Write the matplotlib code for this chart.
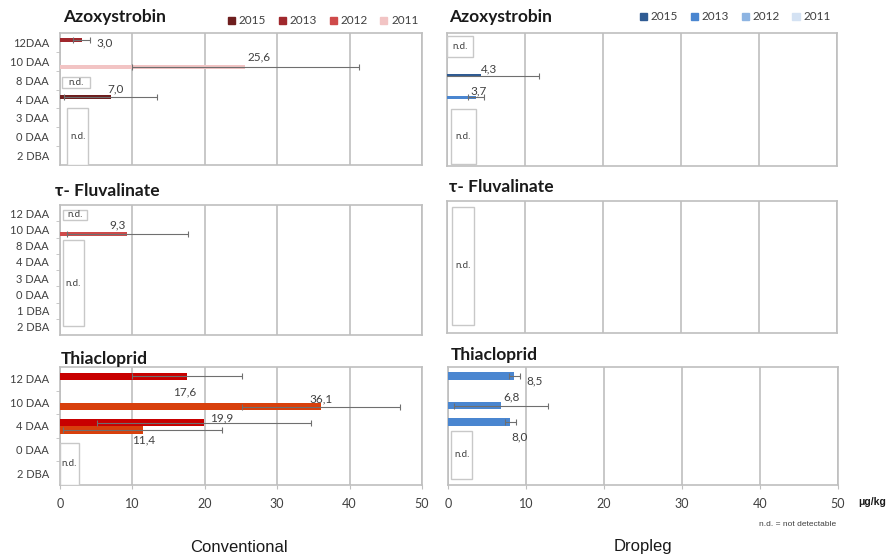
import matplotlib.pyplot as plt
from matplotlib.patches import Patch, Rectangle

plt.rcParams['font.family'] = ['Lato', 'DejaVu Sans']

years = ['2015', '2013', '2012', '2011']
conv_colors = ['#6e1e1e', '#a0282d', '#cf4a4a', '#f2c4c4']
drop_colors = ['#2f5b93', '#4a86d0', '#8db4e2', '#d4e2f3']
thia_red = '#c80000'
thia_orange = '#d8400c'

azo_cats = ['12DAA', '10 DAA', '8 DAA', '4 DAA', '3 DAA', '0 DAA', '2 DBA']
flu_cats = ['12 DAA', '10 DAA', '8 DAA', '4 DAA', '3 DAA', '0 DAA', '1 DBA', '2 DBA']
thia_cats = ['12 DAA', '10 DAA', '4 DAA', '0 DAA', '2 DBA']

# conventional
azo_conv_cat = ['12DAA', '10 DAA', '4 DAA']
azo_conv_val = [3.0, 25.6, 7.0]
azo_conv_err = [1.2, 15.7, 6.4]
azo_conv_col = [conv_colors[1], conv_colors[3], conv_colors[0]]

flu_conv_cat = ['10 DAA']
flu_conv_val = [9.3]
flu_conv_err = [8.4]
flu_conv_col = [conv_colors[2]]

thia_conv_cat = ['12 DAA', '10 DAA', '4 DAA', '4 DAA']
thia_conv_val = [17.6, 36.1, 19.9, 11.4]
thia_conv_err = [7.6, 10.9, 14.8, 11.0]
thia_conv_col = [thia_red, thia_orange, thia_red, thia_orange]

# dropleg
azo_drop_cat = ['8 DAA', '4 DAA']
azo_drop_val = [4.3, 3.7]
azo_drop_err = [7.5, 1.0]
azo_drop_col = [drop_colors[0], drop_colors[1]]

thia_drop_cat = ['12 DAA', '10 DAA', '4 DAA']
thia_drop_val = [8.5, 6.8, 8.0]
thia_drop_err = [0.7, 6.0, 0.7]
thia_drop_col = [drop_colors[1], drop_colors[1], drop_colors[1]]

GRID = '#bfbfbf'
TXT = '#404040'


def panel(ax, cats, bar_cat, vals, errs, colors, shift, height, label_off, nd,
          ylabels=True, xlabels=False):
    n = len(cats)
    pos = [cats.index(c) + s for c, s in zip(bar_cat, shift)]
    if vals:
        ax.barh(pos, vals, height=height, color=colors, zorder=3)
        ax.errorbar(vals, pos, xerr=errs, fmt='none', ecolor='#6f6f6f',
                    elinewidth=0.8, capsize=2.5, capthick=0.8, zorder=4)
    for v, p, (dx, dy) in zip(vals, pos, label_off):
        ax.annotate(f'{v:.1f}'.replace('.', ','), (v, p), xytext=(dx, dy),
                    textcoords='offset pixels', ha='center', va='center',
                    fontsize=8.5, color=TXT, zorder=6)
    for x0, x1, y0, y1 in nd:
        ax.add_patch(Rectangle((x0, y0), x1 - x0, y1 - y0, facecolor='white',
                               edgecolor='#c8c8c8', lw=1, zorder=5))
        ax.text((x0 + x1) / 2, (y0 + y1) / 2, 'n.d.', ha='center', va='center',
                fontsize=7, color=TXT, zorder=6)
    ax.set_xlim(0, 50)
    ax.set_ylim(n - 0.5, -0.5)
    ax.set_xticks(range(0, 51, 10))
    ax.xaxis.grid(True, color=GRID, lw=1.2, zorder=0)
    ax.set_axisbelow(True)
    for s in ax.spines.values():
        s.set_color(GRID)
        s.set_linewidth(1.2)
    if ylabels:
        ax.set_yticks(range(n))
        ax.set_yticklabels(cats, fontsize=8, color=TXT)
        ax.set_yticks([i + 0.5 for i in range(n - 1)], minor=True)
        ax.tick_params(axis='y', which='major', length=0, pad=8)
        ax.tick_params(axis='y', which='minor', length=3, color=GRID)
    else:
        ax.set_yticks([])
    if xlabels:
        ax.tick_params(axis='x', length=3, color=GRID, labelsize=9,
                       labelcolor=TXT, pad=6)
    else:
        ax.tick_params(axis='x', length=0, labelbottom=False)


fig = plt.figure(figsize=(8.9, 5.55), dpi=100)
W, H = 890, 555


def add_axes(x0, y0, x1, y1):
    return fig.add_axes([x0 / W, 1 - y1 / H, (x1 - x0) / W, (y1 - y0) / H])


ax_tl = add_axes(60, 33, 422, 165)
ax_tr = add_axes(447, 33, 837, 166)
ax_ml = add_axes(60, 205, 422, 335)
ax_mr = add_axes(447, 201, 837, 333)
ax_bl = add_axes(60, 367, 422, 485)
ax_br = add_axes(448, 367, 838, 485)

panel(ax_tl, azo_cats, azo_conv_cat, azo_conv_val, azo_conv_err, azo_conv_col,
      [-0.12, 0.30, -0.11], 0.2, [(23, -3), (14, 10), (5, 8)],
      [(0.3, 4.2, 1.83, 2.42), (1.0, 3.9, 3.48, 6.5)])
panel(ax_tr, azo_cats, azo_drop_cat, azo_drop_val, azo_drop_err, azo_drop_col,
      [-0.25, -0.12], 0.18, [(9, 7), (3, 6)],
      [(0.0, 3.3, -0.34, 0.77), (0.5, 3.7, 3.48, 6.4)], ylabels=False)
panel(ax_ml, flu_cats, flu_conv_cat, flu_conv_val, flu_conv_err, flu_conv_col,
      [0.28], 0.25, [(-10, 9)],
      [(0.4, 3.7, -0.19, 0.42), (0.4, 3.3, 1.65, 6.95)])
panel(ax_mr, flu_cats, [], [], [], [], [], 0.25, [],
      [(0.6, 3.5, -0.14, 7.0)], ylabels=False)
panel(ax_bl, thia_cats, thia_conv_cat, thia_conv_val, thia_conv_err, thia_conv_col,
      [-0.11, 0.18, -0.13, 0.17], 0.3, [(-3, -16), (0, 8), (18, 5), (1, -10)],
      [(0.0, 2.6, 2.72, 4.5)], xlabels=True)
panel(ax_br, thia_cats, thia_drop_cat, thia_drop_val, thia_drop_err, thia_drop_col,
      [-0.12, 0.15, -0.17], 0.3, [(20, -5), (11, 9), (9, -15)],
      [(0.4, 3.1, 2.2, 4.25)], ylabels=False, xlabels=True)

# titles
for x, y, t in [(63, 17, 'Azoxystrobin'), (449, 17, 'Azoxystrobin'),
                (55, 191, 'τ- Fluvalinate'), (449, 187, 'τ- Fluvalinate'),
                (61, 359, 'Thiacloprid'), (451, 355, 'Thiacloprid')]:
    fig.text(x / W, 1 - y / H, t, fontsize=12.5, fontweight='bold', color='#1a1a1a',
             ha='left', va='center')

# legends
fig.legend([Patch(color=c) for c in conv_colors], years, ncol=4, frameon=False,
           loc='center', bbox_to_anchor=(323 / W, 1 - 21 / H), fontsize=8.5,
           handlelength=0.6, handleheight=0.6, handletextpad=0.3, columnspacing=1.1,
           labelcolor=TXT)
fig.legend([Patch(color=c) for c in drop_colors], years, ncol=4, frameon=False,
           loc='center', bbox_to_anchor=(735 / W, 1 - 17 / H), fontsize=8.5,
           handlelength=0.6, handleheight=0.6, handletextpad=0.3, columnspacing=1.1,
           labelcolor=TXT)

fig.text(239 / W, 1 - 547 / H, 'Conventional', fontsize=12, family='Liberation Sans',
         ha='center', va='center', color='#1a1a1a')
fig.text(643 / W, 1 - 547 / H, 'Dropleg', fontsize=12, family='Liberation Sans',
         ha='center', va='center', color='#1a1a1a')
fig.text(872 / W, 1 - 502 / H, 'μg/kg', fontsize=7.5, fontweight='bold',
         family='Liberation Sans', ha='center', va='center', color='#1a1a1a')
fig.text(798 / W, 1 - 524 / H, 'n.d. = not detectable', fontsize=6,
         family='Liberation Sans', ha='center', va='center', color=TXT)

fig.savefig('out.png', dpi=100)
